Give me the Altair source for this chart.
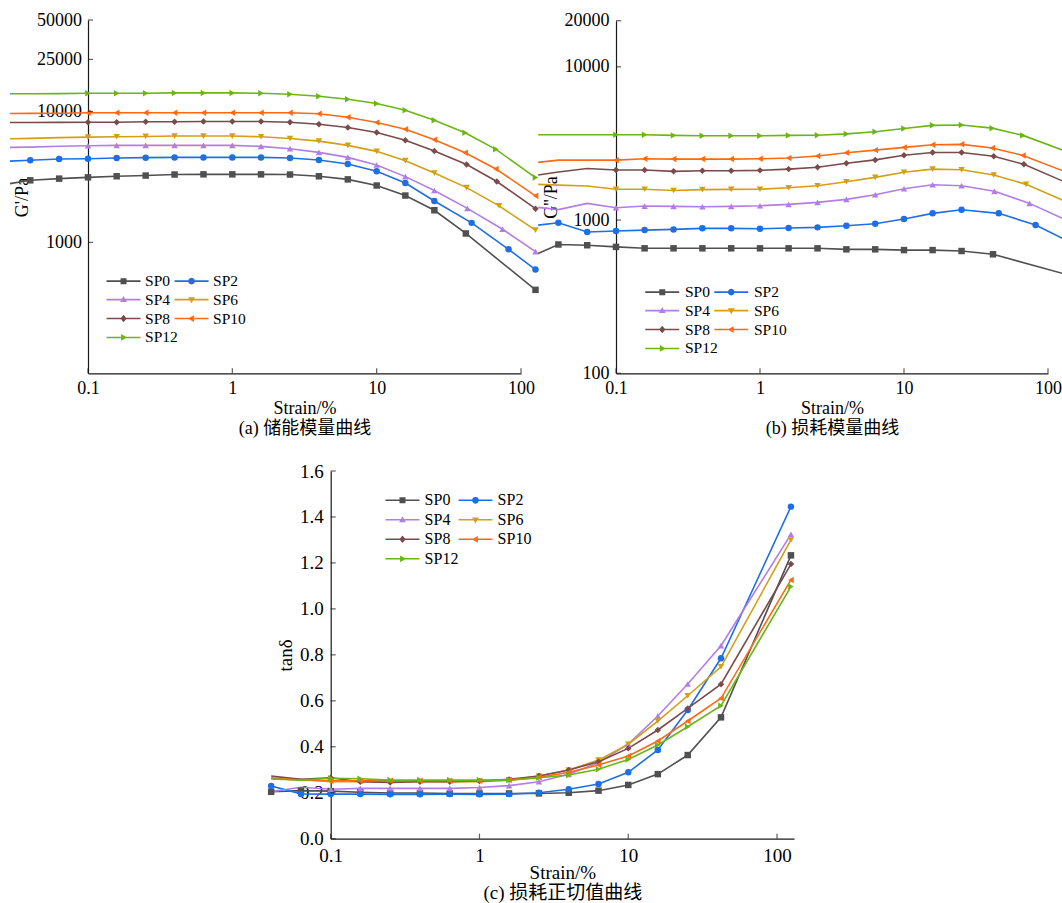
import altair as alt
import pandas as pd

FONT = "Liberation Serif, Noto Sans CJK SC"
AX = "#1a1a1a"

SERIES = ["SP0", "SP2", "SP4", "SP6", "SP8", "SP10", "SP12"]
COLORS = ["#505050", "#1E6FE3", "#B27DE5", "#D39F14", "#7B4A4A", "#FF6A13", "#6BB614"]
SHAPES = ["square", "circle", "triangle-up", "triangle-down", "diamond", "triangle-left", "triangle-right"]

# legend symbols: a short line with the marker in the middle
_LINE = "M-4.25,-0.2L4.25,-0.2L4.25,0.2L-4.25,0.2Z"
LEGEND_PATHS = [
    _LINE + "M-0.75,-0.75L0.75,-0.75L0.75,0.75L-0.75,0.75Z",
    _LINE + "M0.85,0L0.74,0.43L0.43,0.74L0,0.85L-0.43,0.74L-0.74,0.43L-0.85,0L-0.74,-0.43L-0.43,-0.74L0,-0.85L0.43,-0.74L0.74,-0.43Z",
    _LINE + "M0,-0.9L0.85,0.6L-0.85,0.6Z",
    _LINE + "M0,0.9L-0.85,-0.6L0.85,-0.6Z",
    _LINE + "M0,-0.95L0.8,0L0,0.95L-0.8,0Z",
    _LINE + "M-0.9,0L0.6,-0.85L0.6,0.85Z",
    _LINE + "M0.9,0L-0.6,0.85L-0.6,-0.85Z",
]

# strain (%) common to all samples at small strain
STRAIN_LOW = [0.0288, 0.0398, 0.0631, 0.1, 0.158, 0.251, 0.398, 0.631, 1.0, 1.58,
              2.51, 3.98, 6.31, 10.0, 15.8, 25.1]
# strain (%) at large strain, per sample (panels a and b)
STRAIN_TAIL = {
    "SP0": [41.5, 126],
    "SP2": [45.5, 82, 126],
    "SP4": [42.5, 74.5, 126],
    "SP6": [42, 70.5, 126],
    "SP8": [42, 68, 126],
    "SP10": [41, 67, 126],
    "SP12": [41, 67, 126],
}

# storage modulus G' (Pa)
G_STORAGE = {
    "SP0": [2810, 2980, 3070, 3140, 3200, 3240, 3300, 3310, 3310, 3310, 3300, 3200, 3030, 2720, 2280, 1760, 1170, 434],
    "SP2": [4180, 4240, 4340, 4360, 4410, 4440, 4460, 4460, 4460, 4460, 4410, 4260, 3970, 3490, 2840, 2070, 1410, 885, 620],
    "SP4": [5320, 5340, 5420, 5480, 5510, 5510, 5510, 5510, 5510, 5410, 5200, 4870, 4460, 3900, 3180, 2490, 1820, 1260, 850],
    "SP6": [6190, 6230, 6320, 6370, 6410, 6450, 6490, 6490, 6490, 6410, 6220, 5940, 5510, 4960, 4210, 3390, 2620, 1900, 1240],
    "SP8": [8240, 8240, 8260, 8280, 8280, 8340, 8340, 8390, 8390, 8390, 8280, 8000, 7550, 6920, 6040, 4990, 3930, 2920, 1810],
    "SP10": [9660, 9680, 9700, 9780, 9780, 9780, 9780, 9780, 9780, 9780, 9780, 9600, 9050, 8250, 7330, 6080, 4840, 3640, 2270],
    "SP12": [13650, 13650, 13700, 13770, 13770, 13770, 13870, 13870, 13870, 13770, 13560, 13090, 12420, 11500, 10230, 8590, 6890, 5140, 3130],
}

# loss modulus G'' (Pa)
G_LOSS = {
    "SP0": [606, 693, 685, 668, 654, 654, 654, 654, 654, 654, 654, 644, 644, 637, 637, 628, 598, 449],
    "SP2": [927, 960, 836, 848, 860, 869, 883, 883, 878, 887, 896, 918, 946, 1015, 1106, 1168, 1106, 928, 760],
    "SP4": [1210, 1170, 1285, 1203, 1234, 1228, 1221, 1228, 1240, 1265, 1304, 1364, 1462, 1600, 1699, 1674, 1540, 1285, 1026],
    "SP6": [1710, 1690, 1670, 1590, 1590, 1560, 1580, 1585, 1590, 1625, 1675, 1780, 1900, 2050, 2150, 2130, 1970, 1710, 1350],
    "SP8": [1970, 2060, 2170, 2120, 2120, 2080, 2100, 2100, 2110, 2150, 2210, 2350, 2470, 2650, 2760, 2760, 2610, 2310, 1800],
    "SP10": [2380, 2460, 2460, 2460, 2510, 2500, 2500, 2500, 2510, 2540, 2620, 2750, 2860, 2980, 3100, 3120, 2950, 2640, 2100],
    "SP12": [3600, 3600, 3600, 3600, 3600, 3570, 3550, 3550, 3550, 3570, 3580, 3650, 3770, 3960, 4150, 4170, 3980, 3570, 2860],
}

# loss tangent
STRAIN_TAN = [0.0398, 0.0631, 0.1, 0.158, 0.251, 0.398, 0.631, 1.0, 1.58, 2.51,
              3.98, 6.31, 10.0, 15.8, 25.1, 42, 124]
TAN_DELTA = {
    "SP0": [0.204, 0.209, 0.207, 0.202, 0.199, 0.199, 0.197, 0.197, 0.197, 0.197, 0.200, 0.209, 0.234, 0.281, 0.364, 0.528, 1.233],
    "SP2": [0.229, 0.195, 0.194, 0.194, 0.193, 0.193, 0.194, 0.193, 0.194, 0.200, 0.215, 0.238, 0.289, 0.386, 0.560, 0.785, 1.445],
    "SP4": [0.205, 0.224, 0.215, 0.219, 0.219, 0.219, 0.219, 0.223, 0.231, 0.248, 0.280, 0.331, 0.412, 0.534, 0.673, 0.840, 1.324],
    "SP6": [0.265, 0.258, 0.248, 0.248, 0.248, 0.248, 0.248, 0.248, 0.255, 0.273, 0.299, 0.342, 0.411, 0.512, 0.622, 0.748, 1.300],
    "SP8": [0.273, 0.258, 0.265, 0.248, 0.245, 0.248, 0.248, 0.251, 0.258, 0.273, 0.299, 0.335, 0.393, 0.473, 0.567, 0.672, 1.195],
    "SP10": [0.263, 0.255, 0.252, 0.252, 0.252, 0.252, 0.252, 0.252, 0.255, 0.267, 0.289, 0.321, 0.360, 0.425, 0.512, 0.611, 1.126],
    "SP12": [0.260, 0.255, 0.263, 0.261, 0.255, 0.255, 0.255, 0.255, 0.255, 0.265, 0.277, 0.302, 0.345, 0.408, 0.487, 0.579, 1.097],
}

X_TICKS = [0.1, 1, 10, 100]
GS_TICKS = [1000, 10000, 25000, 50000]
GL_TICKS = [100, 1000, 10000, 20000]
TAN_TICKS = [0.0, 0.2, 0.4, 0.6, 0.8, 1.0, 1.2, 1.4, 1.6]


def long_table(strain_of, values):
    rows = []
    for s in SERIES:
        for x, v in zip(strain_of(s), values[s]):
            rows.append({"series": s, "strain": x, "value": v})
    return pd.DataFrame(rows)


df_a = long_table(lambda s: STRAIN_LOW + STRAIN_TAIL[s], G_STORAGE)
df_b = long_table(lambda s: STRAIN_LOW + STRAIN_TAIL[s], G_LOSS)
df_c = long_table(lambda s: STRAIN_TAN, TAN_DELTA)


def panel(df, p):
    xs = alt.Scale(type="log", domain=p["xdom"], range=p["xrange"], nice=False)
    if p["ytype"] == "log":
        ys = alt.Scale(type="log", domain=p["ydom"], range=p["yrange"], nice=False)
    else:
        ys = alt.Scale(type="linear", domain=p["ydom"], range=p["yrange"], nice=False, zero=False)
    xaxis = alt.Axis(
        orient="bottom", offset=p["xoff"], values=X_TICKS, format="~g",
        labelFlush=False, labelOverlap=False, ticks=False, tickSize=0, grid=False,
        domainColor=AX, domainWidth=1.2, labelFont=FONT, labelFontSize=p["fs"],
        labelColor="black", labelPadding=p["xlp"],
        title=p["xtitle"], titleFont=FONT, titleFontSize=p["tfs"], titleFontWeight="normal",
        titleColor="black", titleBaseline="alphabetic", titleY=p["xty"],
        titleLineHeight=p["tlh"],
    )
    yaxis = alt.Axis(
        orient="left", offset=-p["xrange"][0], values=p["yticks"], format=p["yfmt"],
        labelFlush=False, labelOverlap=False, ticks=False, tickSize=0, grid=False,
        domainColor=AX, domainWidth=1.2, labelFont=FONT, labelFontSize=p["fs"],
        labelColor="black", labelPadding=p["ylp"],
        title=p["ytitle"], titleFont=FONT, titleFontSize=p["tfs"], titleFontWeight="normal",
        titleColor="black", titleAngle=270, titleAlign="center", titleBaseline="middle",
        titleX=p["ytx"], titleY=p["yty"],
    )
    Xa = alt.X("strain:Q", scale=xs, axis=xaxis)
    Ya = alt.Y("value:Q", scale=ys, axis=yaxis)
    Xn = alt.X("strain:Q", scale=xs, axis=None)
    Yn = alt.Y("value:Q", scale=ys, axis=None)

    def color(leg):
        return alt.Color("series:N", scale=alt.Scale(domain=SERIES, range=COLORS), legend=leg)

    base = alt.Chart(df)
    lines = base.mark_line(strokeWidth=1.6).encode(x=Xa, y=Ya, color=color(None))
    pts = base.transform_filter(p["ptfilter"]).mark_point(
        filled=True, size=42, opacity=1
    ).encode(
        x=Xn, y=Yn, color=color(None),
        shape=alt.Shape("series:N", scale=alt.Scale(domain=SERIES, range=SHAPES), legend=None),
    )
    leg = alt.Legend(
        orient="none", legendX=p["lx"], legendY=p["ly"], columns=2, direction="horizontal",
        title=None, symbolSize=64, symbolStrokeWidth=0, symbolOpacity=1,
        labelFont=FONT, labelFontSize=p["lfs"], labelColor="black", labelLimit=0,
        labelOffset=p["loff"], rowPadding=p["rowpad"], columnPadding=p["colpad"], padding=0,
    )
    legend_layer = base.transform_filter("datum.strain < 0").mark_point(
        filled=True, opacity=1
    ).encode(
        x=Xn, y=Yn, color=color(leg),
        shape=alt.Shape("series:N", scale=alt.Scale(domain=SERIES, range=LEGEND_PATHS), legend=leg),
    )
    xt = alt.Chart(pd.DataFrame({"t": X_TICKS})).mark_tick(
        orient="vertical", size=5, thickness=1.2, yOffset=-2.5, color=AX
    ).encode(
        x=alt.X("t:Q", scale=xs, axis=None),
        y=alt.YDatum(p["ydom"][0], scale=ys, axis=None),
    )
    yt = alt.Chart(pd.DataFrame({"t": p["yticks"]})).mark_tick(
        orient="horizontal", size=5, thickness=1.2, xOffset=2.5, color=AX
    ).encode(
        y=alt.Y("t:Q", scale=ys, axis=None),
        x=alt.XDatum(p["xdom"][0], scale=xs, axis=None),
    )
    return [lines, pts, legend_layer, xt, yt]


MARK_FILTER = "datum.strain > 0.09 || datum.series == 'SP0' || datum.series == 'SP2'"

layers_a = panel(df_a, dict(
    xdom=[0.1, 100], xrange=[88, 521], ytype="log", ydom=[100, 50000], yrange=[373.3, 20],
    xoff=373.3 - 903, yticks=GS_TICKS, yfmt="d", fs=18, tfs=18, lfs=15.5, xlp=6.5, ylp=6.5,
    xtitle=["Strain/%", "(a) 储能模量曲线"], xty=39.7, tlh=20.5,
    ytitle="G'/Pa", ytx=22.4 - 88, yty=197,
    ptfilter="datum.strain > 0.03 && (" + MARK_FILTER + ")",
    lx=115.8, ly=273, loff=13.8, rowpad=1.9, colpad=-5,
))
layers_b = panel(df_b, dict(
    xdom=[0.1, 100], xrange=[616, 1048], ytype="log", ydom=[100, 20000], yrange=[373.3, 20.7],
    xoff=373.3 - 903, yticks=GL_TICKS, yfmt="d", fs=18, tfs=18, lfs=15.5, xlp=6.5, ylp=7,
    xtitle=["Strain/%", "(b) 损耗模量曲线"], xty=39.7, tlh=20.5,
    ytitle="G''/Pa", ytx=551 - 616, yty=197,
    ptfilter="datum.strain > 0.03 && datum.strain < 110 && (" + MARK_FILTER + ")",
    lx=654.5, ly=284, loff=14.9, rowpad=1.9, colpad=-5,
))
layers_c = panel(df_c, dict(
    xdom=[0.1, 130], xrange=[330.7, 794], ytype="linear", ydom=[0, 1.6], yrange=[838.7, 471],
    xoff=838.7 - 903, yticks=TAN_TICKS, yfmt=".1f", fs=19, tfs=19, lfs=16, xlp=7.5, ylp=7.5,
    xtitle=["Strain/%", "(c) 损耗正切值曲线"], xty=39.3, tlh=20,
    ytitle="tanδ", ytx=285.5 - 330.7, yty=655,
    ptfilter=MARK_FILTER,
    lx=394.5, ly=492.3, loff=14.1, rowpad=3.5, colpad=0,
))

chart = alt.layer(*(layers_a + layers_b + layers_c)).resolve_scale(
    x="independent", y="independent", color="independent", shape="independent"
).properties(
    width=1062, height=903, padding=0, background="white",
    autosize=alt.AutoSizeParams(type="none"),
).configure_view(stroke=None)

chart.save("out.html", embed_options={"renderer": "svg", "actions": False})
